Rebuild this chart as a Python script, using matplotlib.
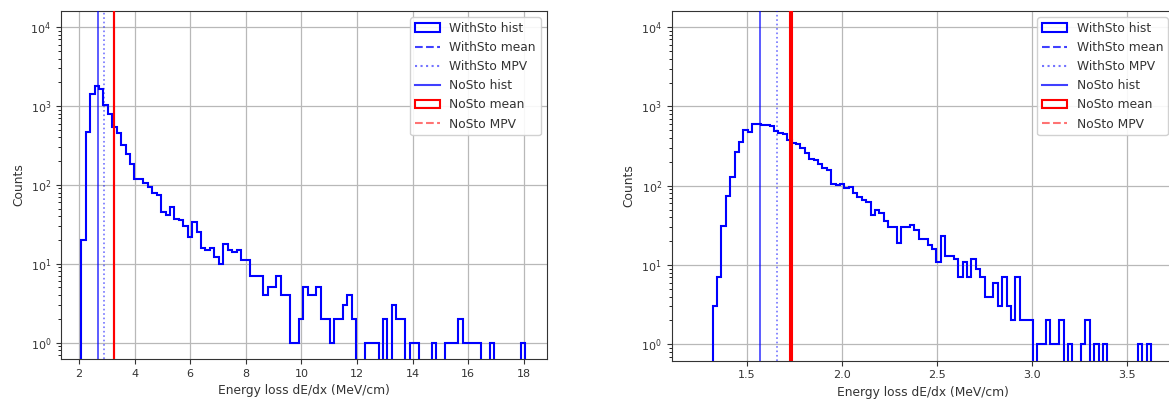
import matplotlib
matplotlib.use("Agg")
import matplotlib.pyplot as plt
import numpy as np
from matplotlib.lines import Line2D
from matplotlib.patches import Patch

# WithSto dE/dx histogram, 100 bins between min and max (left: thick layer, right: thin layer)
left_range = (2.08, 18.04)
left_counts = [20, 470, 1440, 1780, 1660, 1020, 800, 540, 450, 317,
               245, 186, 120, 120, 106, 94, 78, 74, 45, 42,
               52, 37, 36, 30, 22, 34, 25, 16, 15, 16,
               12, 10, 18, 15, 14, 15, 11, 11, 7, 7,
               7, 4, 5, 5, 7, 4, 4, 1, 1, 2,
               5, 4, 4, 5, 2, 2, 1, 2, 2, 3,
               4, 2, 0, 0, 1, 1, 1, 0, 2, 0,
               3, 2, 2, 0, 1, 1, 0, 0, 0, 1,
               0, 0, 1, 1, 1, 2, 1, 1, 1, 1,
               0, 0, 1, 0, 0, 0, 0, 0, 0, 1]
left_lines = {"withsto_mean": 2.69, "withsto_mpv": 2.91, "nosto": 3.25}

right_range = (1.32, 3.63)
right_counts = [3, 7, 31, 74, 130, 263, 353, 500, 478, 600,
                600, 585, 580, 575, 490, 460, 450, 377, 345, 335,
                295, 256, 220, 210, 190, 166, 158, 105, 102, 104,
                93, 95, 80, 72, 66, 62, 43, 50, 45, 36,
                30, 30, 19, 30, 30, 32, 28, 21, 21, 18,
                16, 11, 23, 13, 13, 12, 7, 11, 7, 12,
                9, 7, 4, 4, 6, 3, 7, 3, 2, 7,
                2, 2, 2, 0, 1, 1, 2, 1, 1, 2,
                0, 1, 0, 0, 1, 2, 0, 1, 0, 1,
                0, 0, 0, 0, 0, 0, 0, 1, 0, 1]
right_lines = {"withsto_mean": 1.568, "withsto_mpv": 1.66, "nosto": 1.726}

# no-stochastic case: every event in one bin, far above the plotted range
nosto_count = 20000
labels = ["WithSto hist", "WithSto mean", "WithSto MPV", "NoSto hist", "NoSto mean", "NoSto MPV"]

FS = 8.8
fig = plt.figure(figsize=(11.69, 3.99), dpi=100)
ax1 = fig.add_axes([0.0522, 0.1003, 0.4157, 0.872])
ax2 = fig.add_axes([0.5746, 0.096, 0.4297, 0.8764])


def panel(ax, counts, rng, lines, xlim, xticks):
    edges = np.linspace(rng[0], rng[1], len(counts) + 1)
    ax.set_yscale("log")
    ax.stairs(counts, edges, color="blue", lw=1.5, zorder=3)
    ax.axvline(lines["withsto_mean"], color="blue", lw=1.2, alpha=0.75, zorder=3)
    ax.axvline(lines["withsto_mpv"], color="blue", lw=1.2, ls=":", alpha=0.55, zorder=3)
    v = lines["nosto"]
    ax.stairs([nosto_count], [v, v + 0.01], color="red", lw=1.5, zorder=4)
    ax.set_xlim(*xlim)
    ax.set_ylim(0.62, 1.6e4)
    ax.set_xticks(xticks)
    ax.grid(True, color="#b8b8b8", lw=0.9)
    ax.set_axisbelow(True)
    ax.tick_params(labelsize=8, colors="#333333")
    ax.set_xlabel("Energy loss dE/dx (MeV/cm)", fontsize=FS, color="#333333")
    ax.set_ylabel("Counts", fontsize=FS, color="#333333")
    for s in ax.spines.values():
        s.set_color("#333333")
    handles = [Patch(facecolor="none", edgecolor="blue", lw=1.5),
               Line2D([], [], color="blue", ls="--", alpha=0.75),
               Line2D([], [], color="blue", ls=":", alpha=0.55),
               Line2D([], [], color="blue", alpha=0.75),
               Patch(facecolor="none", edgecolor="red", lw=1.5),
               Line2D([], [], color="red", ls="--", alpha=0.55)]
    leg = ax.legend(handles, labels, loc="upper right", fontsize=FS, framealpha=0.9)
    for t in leg.get_texts():
        t.set_color("#333333")


panel(ax1, left_counts, left_range, left_lines, (1.353, 18.83), [2, 4, 6, 8, 10, 12, 14, 16, 18])
panel(ax2, right_counts, right_range, right_lines, (1.104, 3.75), [1.5, 2.0, 2.5, 3.0, 3.5])

fig.savefig("out.png", dpi=100)
